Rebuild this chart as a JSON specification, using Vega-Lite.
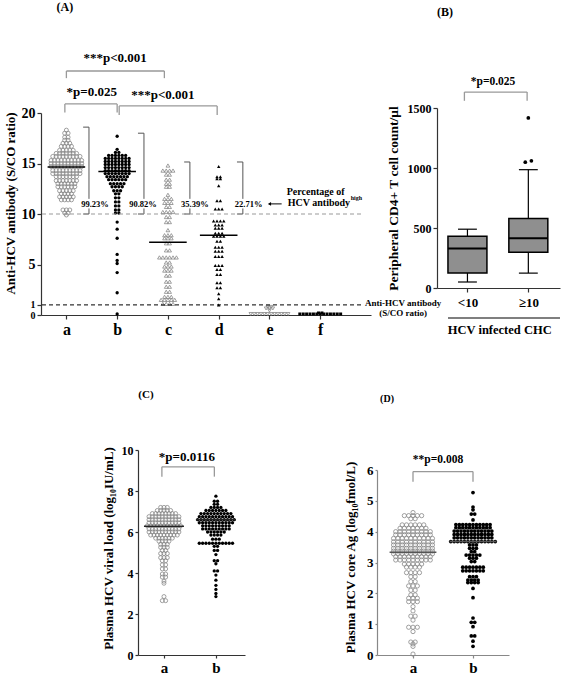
{
"$schema":"https://vega.github.io/schema/vega-lite/v6.json",
"width":563,"height":676,"autosize":"none","padding":0,"background":"white",
"config":{"view":{"stroke":null},
 "axis":{"grid":false,"labelOverlap":false,"labelFlush":false,"labelFont":"Liberation Serif","labelFontWeight":"bold","labelColor":"black","titleFont":"Liberation Serif","titleFontWeight":"bold","titleColor":"black","domainColor":"#333","tickColor":"#333","domainWidth":1.2,"tickWidth":1.2},
 "text":{"font":"Liberation Serif","fontWeight":"bold","color":"black"}},
"datasets":{
"A":[
{"g":"a","v":18.3},{"g":"a","v":18},{"g":"a","v":18},{"g":"a","v":17.6},{"g":"a","v":17.6},{"g":"a","v":17.3},{"g":"a","v":17.3},{"g":"a","v":17},{"g":"a","v":17},{"g":"a","v":17},
{"g":"a","v":16.7},{"g":"a","v":16.7},{"g":"a","v":16.7},{"g":"a","v":16.7},
{"g":"a","v":16.3},{"g":"a","v":16.3},{"g":"a","v":16.3},{"g":"a","v":16.3},{"g":"a","v":16.3},
{"g":"a","v":16},{"g":"a","v":16},{"g":"a","v":16},{"g":"a","v":16},{"g":"a","v":16},{"g":"a","v":16},{"g":"a","v":16},
{"g":"a","v":15.7},{"g":"a","v":15.7},{"g":"a","v":15.7},{"g":"a","v":15.7},{"g":"a","v":15.7},{"g":"a","v":15.7},{"g":"a","v":15.7},{"g":"a","v":15.7},{"g":"a","v":15.7},
{"g":"a","v":15.3},{"g":"a","v":15.3},{"g":"a","v":15.3},{"g":"a","v":15.3},{"g":"a","v":15.3},{"g":"a","v":15.3},{"g":"a","v":15.3},{"g":"a","v":15.3},{"g":"a","v":15.3},{"g":"a","v":15.3},
{"g":"a","v":15},{"g":"a","v":15},{"g":"a","v":15},{"g":"a","v":15},{"g":"a","v":15},{"g":"a","v":15},{"g":"a","v":15},{"g":"a","v":15},{"g":"a","v":15},{"g":"a","v":15},
{"g":"a","v":14.7},{"g":"a","v":14.7},{"g":"a","v":14.7},{"g":"a","v":14.7},{"g":"a","v":14.7},{"g":"a","v":14.7},{"g":"a","v":14.7},{"g":"a","v":14.7},{"g":"a","v":14.7},{"g":"a","v":14.7},
{"g":"a","v":14.3},{"g":"a","v":14.3},{"g":"a","v":14.3},{"g":"a","v":14.3},{"g":"a","v":14.3},{"g":"a","v":14.3},{"g":"a","v":14.3},{"g":"a","v":14.3},{"g":"a","v":14.3},
{"g":"a","v":14},{"g":"a","v":14},{"g":"a","v":14},{"g":"a","v":14},{"g":"a","v":14},{"g":"a","v":14},{"g":"a","v":14},{"g":"a","v":14},{"g":"a","v":14},
{"g":"a","v":13.7},{"g":"a","v":13.7},{"g":"a","v":13.7},{"g":"a","v":13.7},{"g":"a","v":13.7},{"g":"a","v":13.7},{"g":"a","v":13.7},
{"g":"a","v":13.3},{"g":"a","v":13.3},{"g":"a","v":13.3},{"g":"a","v":13.3},{"g":"a","v":13.3},{"g":"a","v":13.3},{"g":"a","v":13.3},
{"g":"a","v":13},{"g":"a","v":13},{"g":"a","v":13},{"g":"a","v":13},{"g":"a","v":13},{"g":"a","v":13},
{"g":"a","v":12.7},{"g":"a","v":12.7},{"g":"a","v":12.7},{"g":"a","v":12.7},{"g":"a","v":12.7},{"g":"a","v":12.7},
{"g":"a","v":12.3},{"g":"a","v":12.3},{"g":"a","v":12.3},{"g":"a","v":12.3},{"g":"a","v":12.3},
{"g":"a","v":12},{"g":"a","v":12},{"g":"a","v":12},{"g":"a","v":12},
{"g":"a","v":11.7},{"g":"a","v":11.7},{"g":"a","v":11.7},{"g":"a","v":11.7},{"g":"a","v":11.7},
{"g":"a","v":11.4},{"g":"a","v":11.4},{"g":"a","v":11.4},{"g":"a","v":11.4},
{"g":"a","v":10.4},{"g":"a","v":10.4},{"g":"a","v":10.4},{"g":"a","v":10.1},{"g":"a","v":10.1},{"g":"a","v":9.9},
{"g":"b","v":17.7},{"g":"b","v":16.4},{"g":"b","v":16.1},{"g":"b","v":16.1},
{"g":"b","v":15.8},{"g":"b","v":15.8},{"g":"b","v":15.8},{"g":"b","v":15.8},{"g":"b","v":15.8},{"g":"b","v":15.8},
{"g":"b","v":15.5},{"g":"b","v":15.5},{"g":"b","v":15.5},{"g":"b","v":15.5},{"g":"b","v":15.5},{"g":"b","v":15.5},{"g":"b","v":15.5},{"g":"b","v":15.5},
{"g":"b","v":15.2},{"g":"b","v":15.2},{"g":"b","v":15.2},{"g":"b","v":15.2},{"g":"b","v":15.2},{"g":"b","v":15.2},{"g":"b","v":15.2},{"g":"b","v":15.2},
{"g":"b","v":14.9},{"g":"b","v":14.9},{"g":"b","v":14.9},{"g":"b","v":14.9},{"g":"b","v":14.9},{"g":"b","v":14.9},{"g":"b","v":14.9},{"g":"b","v":14.9},
{"g":"b","v":14.6},{"g":"b","v":14.6},{"g":"b","v":14.6},{"g":"b","v":14.6},{"g":"b","v":14.6},{"g":"b","v":14.6},{"g":"b","v":14.6},{"g":"b","v":14.6},
{"g":"b","v":14.3},{"g":"b","v":14.3},{"g":"b","v":14.3},{"g":"b","v":14.3},{"g":"b","v":14.3},{"g":"b","v":14.3},{"g":"b","v":14.3},{"g":"b","v":14.3},
{"g":"b","v":14},{"g":"b","v":14},{"g":"b","v":14},{"g":"b","v":14},{"g":"b","v":14},{"g":"b","v":14},{"g":"b","v":14},{"g":"b","v":14},
{"g":"b","v":13.7},{"g":"b","v":13.7},{"g":"b","v":13.7},{"g":"b","v":13.7},{"g":"b","v":13.7},{"g":"b","v":13.7},{"g":"b","v":13.7},
{"g":"b","v":13.4},{"g":"b","v":13.4},{"g":"b","v":13.4},{"g":"b","v":13.4},{"g":"b","v":13.4},{"g":"b","v":13.4},
{"g":"b","v":13},{"g":"b","v":13},{"g":"b","v":13},{"g":"b","v":13},{"g":"b","v":13},
{"g":"b","v":12.7},{"g":"b","v":12.7},{"g":"b","v":12.7},{"g":"b","v":12.7},
{"g":"b","v":12.3},{"g":"b","v":12.3},{"g":"b","v":12.3},{"g":"b","v":12},{"g":"b","v":12},
{"g":"b","v":11.6},{"g":"b","v":11.6},{"g":"b","v":11.2},{"g":"b","v":11.2},{"g":"b","v":10.8},{"g":"b","v":10.8},{"g":"b","v":10.4},{"g":"b","v":10.4},{"g":"b","v":10.1},{"g":"b","v":10.1},
{"g":"b","v":9.2},{"g":"b","v":8.5},{"g":"b","v":7.6},{"g":"b","v":6},{"g":"b","v":5.4},{"g":"b","v":5.1},{"g":"b","v":4.2},{"g":"b","v":2.2},{"g":"b","v":0.1},
{"g":"c","v":14.8},{"g":"c","v":14.3},{"g":"c","v":14.3},{"g":"c","v":14.3},{"g":"c","v":14.3},{"g":"c","v":13.9},{"g":"c","v":13.9},{"g":"c","v":13.4},{"g":"c","v":13.4},{"g":"c","v":13},{"g":"c","v":13},{"g":"c","v":12.7},{"g":"c","v":12.7},{"g":"c","v":11.9},
{"g":"c","v":11.5},{"g":"c","v":11.5},{"g":"c","v":11.5},{"g":"c","v":11.1},{"g":"c","v":11.1},{"g":"c","v":11.1},{"g":"c","v":10.7},{"g":"c","v":10.7},{"g":"c","v":10.2},{"g":"c","v":10.2},{"g":"c","v":10.2},{"g":"c","v":10.2},
{"g":"c","v":9.7},{"g":"c","v":9.7},{"g":"c","v":9.2},{"g":"c","v":9.2},{"g":"c","v":8.4},{"g":"c","v":7.9},{"g":"c","v":7.9},{"g":"c","v":7.9},{"g":"c","v":7.6},{"g":"c","v":7.6},{"g":"c","v":7.6},{"g":"c","v":7.1},{"g":"c","v":7.1},{"g":"c","v":6.4},{"g":"c","v":6.4},
{"g":"c","v":5.7},{"g":"c","v":5.7},{"g":"c","v":5.7},{"g":"c","v":5.7},{"g":"c","v":5.7},{"g":"c","v":5.7},{"g":"c","v":5.2},{"g":"c","v":5.2},{"g":"c","v":4.8},{"g":"c","v":4.8},{"g":"c","v":4.8},{"g":"c","v":4.4},{"g":"c","v":4.4},{"g":"c","v":4.4},
{"g":"c","v":3.9},{"g":"c","v":3.9},{"g":"c","v":3.3},{"g":"c","v":3.3},{"g":"c","v":2.8},{"g":"c","v":2.8},{"g":"c","v":2.3},{"g":"c","v":2.3},{"g":"c","v":1.8},{"g":"c","v":1.8},{"g":"c","v":1.8},
{"g":"c","v":1.5},{"g":"c","v":1.5},{"g":"c","v":1.5},{"g":"c","v":1.5},{"g":"c","v":1.5},{"g":"c","v":1.1},{"g":"c","v":1.1},{"g":"c","v":1.1},{"g":"c","v":1.1},
{"g":"d","v":14.7},{"g":"d","v":13.7},{"g":"d","v":13.7},{"g":"d","v":13.5},{"g":"d","v":13.5},{"g":"d","v":12.8},{"g":"d","v":11.3},{"g":"d","v":11.3},{"g":"d","v":10.5},{"g":"d","v":10.5},{"g":"d","v":10.5},
{"g":"d","v":9.3},{"g":"d","v":9.3},{"g":"d","v":9.3},{"g":"d","v":9.3},{"g":"d","v":8.9},{"g":"d","v":8.9},{"g":"d","v":8.9},{"g":"d","v":8.6},{"g":"d","v":8.6},{"g":"d","v":8.6},{"g":"d","v":8.1},{"g":"d","v":8.1},{"g":"d","v":8.1},
{"g":"d","v":7.8},{"g":"d","v":7.8},{"g":"d","v":7.8},{"g":"d","v":7.8},{"g":"d","v":7.3},{"g":"d","v":7.3},{"g":"d","v":6.7},{"g":"d","v":6.7},{"g":"d","v":6.7},{"g":"d","v":6.3},{"g":"d","v":6.3},{"g":"d","v":6.3},
{"g":"d","v":5.8},{"g":"d","v":5.8},{"g":"d","v":5.8},{"g":"d","v":4.9},{"g":"d","v":4.9},{"g":"d","v":4.9},{"g":"d","v":4.5},{"g":"d","v":4.5},{"g":"d","v":4},{"g":"d","v":4},{"g":"d","v":3.2},{"g":"d","v":3.2},{"g":"d","v":2.7},{"g":"d","v":2.7},{"g":"d","v":2.1},{"g":"d","v":1.6},{"g":"d","v":1},
{"g":"e","v":0.8},{"g":"e","v":0.8},{"g":"e","v":0.65},{"g":"e","v":0.65},{"g":"e","v":0.65},{"g":"e","v":0.45},
{"g":"e","v":0.1},{"g":"e","v":0.1},{"g":"e","v":0.1},{"g":"e","v":0.1},{"g":"e","v":0.1},{"g":"e","v":0.1},{"g":"e","v":0.1},{"g":"e","v":0.1},{"g":"e","v":0.1},{"g":"e","v":0.1},{"g":"e","v":0.1},{"g":"e","v":0.1},
{"g":"f","v":0.2},{"g":"f","v":0.2},
{"g":"f","v":0.1},{"g":"f","v":0.1},{"g":"f","v":0.1},{"g":"f","v":0.1},{"g":"f","v":0.1},{"g":"f","v":0.1},{"g":"f","v":0.1},{"g":"f","v":0.1},{"g":"f","v":0.1},{"g":"f","v":0.1},{"g":"f","v":0.1},{"g":"f","v":0.1},{"g":"f","v":0.1}
],
"Am":[{"g":"a","m":14.65},{"g":"b","m":14.2},{"g":"c","m":7.2},{"g":"d","m":7.9}],
"As":[
{"k":"br","x":1,"x2":2.93,"y":24.16,"y2":24.16},{"k":"br","x":1,"x2":1,"y":24.16,"y2":23.45},{"k":"br","x":2.93,"x2":2.93,"y":24.16,"y2":23.45},
{"k":"br","x":0.97,"x2":2.0,"y":20.9,"y2":20.9},{"k":"br","x":0.97,"x2":0.97,"y":20.9,"y2":20.05},{"k":"br","x":2.0,"x2":2.0,"y":20.9,"y2":20.05},
{"k":"br","x":2.04,"x2":3.97,"y":20.7,"y2":20.7},{"k":"br","x":2.04,"x2":2.04,"y":20.7,"y2":19.8},{"k":"br","x":3.97,"x2":3.97,"y":20.7,"y2":19.8},
{"k":"pct","x":1.445,"x2":1.445,"y":18.6,"y2":11.5},{"k":"pct","x":1.445,"x2":1.445,"y":10.55,"y2":10},{"k":"pct","x":1.33,"x2":1.445,"y":18.6,"y2":18.6},{"k":"pct","x":1.33,"x2":1.445,"y":10,"y2":10},
{"k":"pct","x":2.528,"x2":2.528,"y":18.0,"y2":11.5},{"k":"pct","x":2.528,"x2":2.528,"y":10.55,"y2":10},{"k":"pct","x":2.41,"x2":2.528,"y":18.0,"y2":18.0},{"k":"pct","x":2.41,"x2":2.528,"y":10,"y2":10},
{"k":"pct","x":3.433,"x2":3.433,"y":15.15,"y2":11.5},{"k":"pct","x":3.433,"x2":3.433,"y":10.55,"y2":10},{"k":"pct","x":3.32,"x2":3.433,"y":15.15,"y2":15.15},{"k":"pct","x":3.32,"x2":3.433,"y":10,"y2":10},
{"k":"pct","x":4.476,"x2":4.476,"y":15.15,"y2":11.5},{"k":"pct","x":4.476,"x2":4.476,"y":10.55,"y2":10},{"k":"pct","x":4.36,"x2":4.476,"y":15.15,"y2":15.15},{"k":"pct","x":4.36,"x2":4.476,"y":10,"y2":10},
{"k":"c10","x":0.52,"x2":6.82,"y":10,"y2":10},
{"k":"c1","x":0.52,"x2":6.82,"y":1,"y2":1},
{"k":"ar","x":5.0,"x2":5.24,"y":11.0,"y2":11.0}
],
"At":[
{"k":"p","t":"***p<0.001","x":1.96,"y":25.45},
{"k":"p","t":"*p=0.025","x":1.5,"y":22.1},
{"k":"p","t":"***p<0.001","x":2.9,"y":21.8},
{"k":"pc","t":"99.23%","x":1.563,"y":11.0},
{"k":"pc","t":"90.82%","x":2.508,"y":11.0},
{"k":"pc","t":"35.39%","x":3.53,"y":11.0},
{"k":"pc","t":"22.71%","x":4.59,"y":11.0},
{"k":"n","t":"Percentage of","x":5.34,"y":12.2},
{"k":"n","t":"HCV antibody","x":5.36,"y":11.05},
{"k":"sup","t":"high","x":6.6,"y":11.55},
{"k":"lab","t":"(A)","x":0.97,"y":30.5}
],
"B":[{"grp":"<10","lo":50,"q1":124,"med":330,"q3":431,"hi":490},{"grp":"≥10","lo":124,"q1":298,"med":414,"q3":580,"hi":986}],
"Bo":[{"grp":"≥10","v":1417},{"grp":"≥10","v":1048},{"grp":"≥10","v":1060}],
"Bs":[
{"k":"br","x":0.95,"x2":1.98,"y":1633,"y2":1633},{"k":"br","x":0.95,"x2":0.95,"y":1633,"y2":1560},{"k":"br","x":1.98,"x2":1.98,"y":1633,"y2":1560},
{"k":"ln","x":0.68,"x2":2.52,"y":-250,"y2":-250}
],
"Bt":[
{"k":"p","t":"*p=0.025","x":1.42,"y":1717},
{"k":"s","t":"Anti-HCV antibody","x":-0.057,"y":-125},
{"k":"s","t":"(S/CO ratio)","x":-0.057,"y":-208},
{"k":"h","t":"HCV infected CHC","x":1.53,"y":-350},
{"k":"lab","t":"(B)","x":0.63,"y":2300}
],
"C":[
{"g":"a","v":7.2},{"g":"a","v":7.2},{"g":"a","v":7.2},
{"g":"a","v":7.05},{"g":"a","v":7.05},{"g":"a","v":7.05},{"g":"a","v":7.05},{"g":"a","v":7.05},
{"g":"a","v":6.9},{"g":"a","v":6.9},{"g":"a","v":6.9},{"g":"a","v":6.9},{"g":"a","v":6.9},{"g":"a","v":6.9},{"g":"a","v":6.9},{"g":"a","v":6.9},
{"g":"a","v":6.75},{"g":"a","v":6.75},{"g":"a","v":6.75},{"g":"a","v":6.75},{"g":"a","v":6.75},{"g":"a","v":6.75},{"g":"a","v":6.75},{"g":"a","v":6.75},{"g":"a","v":6.75},{"g":"a","v":6.75},
{"g":"a","v":6.6},{"g":"a","v":6.6},{"g":"a","v":6.6},{"g":"a","v":6.6},{"g":"a","v":6.6},{"g":"a","v":6.6},{"g":"a","v":6.6},{"g":"a","v":6.6},{"g":"a","v":6.6},{"g":"a","v":6.6},
{"g":"a","v":6.45},{"g":"a","v":6.45},{"g":"a","v":6.45},{"g":"a","v":6.45},{"g":"a","v":6.45},{"g":"a","v":6.45},{"g":"a","v":6.45},{"g":"a","v":6.45},{"g":"a","v":6.45},{"g":"a","v":6.45},
{"g":"a","v":6.3},{"g":"a","v":6.3},{"g":"a","v":6.3},{"g":"a","v":6.3},{"g":"a","v":6.3},{"g":"a","v":6.3},{"g":"a","v":6.3},{"g":"a","v":6.3},{"g":"a","v":6.3},{"g":"a","v":6.3},{"g":"a","v":6.3},
{"g":"a","v":6.15},{"g":"a","v":6.15},{"g":"a","v":6.15},{"g":"a","v":6.15},{"g":"a","v":6.15},{"g":"a","v":6.15},{"g":"a","v":6.15},{"g":"a","v":6.15},{"g":"a","v":6.15},{"g":"a","v":6.15},
{"g":"a","v":6},{"g":"a","v":6},{"g":"a","v":6},{"g":"a","v":6},{"g":"a","v":6},{"g":"a","v":6},{"g":"a","v":6},{"g":"a","v":6},{"g":"a","v":6},{"g":"a","v":6},
{"g":"a","v":5.85},{"g":"a","v":5.85},{"g":"a","v":5.85},{"g":"a","v":5.85},{"g":"a","v":5.85},{"g":"a","v":5.85},{"g":"a","v":5.85},{"g":"a","v":5.85},{"g":"a","v":5.85},
{"g":"a","v":5.7},{"g":"a","v":5.7},{"g":"a","v":5.7},{"g":"a","v":5.7},{"g":"a","v":5.7},{"g":"a","v":5.7},
{"g":"a","v":5.55},{"g":"a","v":5.55},{"g":"a","v":5.55},{"g":"a","v":5.55},
{"g":"a","v":5.4},{"g":"a","v":5.4},{"g":"a","v":5.4},{"g":"a","v":5.25},{"g":"a","v":5.25},{"g":"a","v":5.25},{"g":"a","v":5.1},{"g":"a","v":5.1},
{"g":"a","v":4.95},{"g":"a","v":4.95},{"g":"a","v":4.95},{"g":"a","v":4.75},{"g":"a","v":4.75},{"g":"a","v":4.75},{"g":"a","v":4.6},{"g":"a","v":4.6},{"g":"a","v":4.4},{"g":"a","v":4.4},{"g":"a","v":4.2},{"g":"a","v":4.2},
{"g":"a","v":3.95},{"g":"a","v":3.95},{"g":"a","v":3.8},{"g":"a","v":3.8},{"g":"a","v":3.6},{"g":"a","v":3.5},{"g":"a","v":2.85},{"g":"a","v":2.65},{"g":"a","v":2.65},
{"g":"b","v":7.75},{"g":"b","v":7.5},{"g":"b","v":7.5},{"g":"b","v":7.35},{"g":"b","v":7.35},
{"g":"b","v":7.2},{"g":"b","v":7.2},{"g":"b","v":7.2},{"g":"b","v":7.2},
{"g":"b","v":7.05},{"g":"b","v":7.05},{"g":"b","v":7.05},{"g":"b","v":7.05},{"g":"b","v":7.05},{"g":"b","v":7.05},{"g":"b","v":7.05},
{"g":"b","v":6.9},{"g":"b","v":6.9},{"g":"b","v":6.9},{"g":"b","v":6.9},{"g":"b","v":6.9},{"g":"b","v":6.9},{"g":"b","v":6.9},{"g":"b","v":6.9},{"g":"b","v":6.9},{"g":"b","v":6.9},
{"g":"b","v":6.75},{"g":"b","v":6.75},{"g":"b","v":6.75},{"g":"b","v":6.75},{"g":"b","v":6.75},{"g":"b","v":6.75},{"g":"b","v":6.75},{"g":"b","v":6.75},{"g":"b","v":6.75},{"g":"b","v":6.75},{"g":"b","v":6.75},
{"g":"b","v":6.6},{"g":"b","v":6.6},{"g":"b","v":6.6},{"g":"b","v":6.6},{"g":"b","v":6.6},{"g":"b","v":6.6},{"g":"b","v":6.6},{"g":"b","v":6.6},{"g":"b","v":6.6},{"g":"b","v":6.6},{"g":"b","v":6.6},{"g":"b","v":6.6},
{"g":"b","v":6.45},{"g":"b","v":6.45},{"g":"b","v":6.45},{"g":"b","v":6.45},{"g":"b","v":6.45},{"g":"b","v":6.45},{"g":"b","v":6.45},{"g":"b","v":6.45},{"g":"b","v":6.45},{"g":"b","v":6.45},{"g":"b","v":6.45},
{"g":"b","v":6.3},{"g":"b","v":6.3},{"g":"b","v":6.3},{"g":"b","v":6.3},{"g":"b","v":6.3},{"g":"b","v":6.3},{"g":"b","v":6.3},{"g":"b","v":6.3},{"g":"b","v":6.3},
{"g":"b","v":6.15},{"g":"b","v":6.15},{"g":"b","v":6.15},{"g":"b","v":6.15},{"g":"b","v":6.15},{"g":"b","v":6.15},{"g":"b","v":6.15},{"g":"b","v":6.15},{"g":"b","v":6.15},
{"g":"b","v":6},{"g":"b","v":6},{"g":"b","v":6},{"g":"b","v":6},{"g":"b","v":6},{"g":"b","v":6},
{"g":"b","v":5.85},{"g":"b","v":5.85},{"g":"b","v":5.85},{"g":"b","v":5.85},{"g":"b","v":5.65},{"g":"b","v":5.65},{"g":"b","v":5.65},
{"g":"b","v":5.45},{"g":"b","v":5.45},{"g":"b","v":5.45},{"g":"b","v":5.45},{"g":"b","v":5.45},{"g":"b","v":5.45},{"g":"b","v":5.45},{"g":"b","v":5.45},{"g":"b","v":5.45},{"g":"b","v":5.45},{"g":"b","v":5.45},
{"g":"b","v":5.3},{"g":"b","v":5.3},{"g":"b","v":5.1},{"g":"b","v":5.1},{"g":"b","v":4.9},{"g":"b","v":4.6},{"g":"b","v":4.6},{"g":"b","v":4.45},{"g":"b","v":4.1},{"g":"b","v":4.1},{"g":"b","v":3.9},{"g":"b","v":3.65},{"g":"b","v":3.4},{"g":"b","v":3.2},{"g":"b","v":3},{"g":"b","v":2.85}
],
"Cm":[{"g":"a","m":6.28},{"g":"b","m":6.6}],
"Cs":[{"x":0.96,"x2":1.97,"y":9.18,"y2":9.18},{"x":0.96,"x2":0.96,"y":9.18,"y2":8.7},{"x":1.97,"x2":1.97,"y":9.18,"y2":8.7}],
"Ct":[{"k":"p","t":"*p=0.0116","x":1.44,"y":9.67},{"k":"lab","t":"(C)","x":0.654,"y":12.68}],
"D":[
{"g":"a","v":4.62},{"g":"a","v":4.52},{"g":"a","v":4.52},{"g":"a","v":4.52},{"g":"a","v":4.52},{"g":"a","v":4.52},{"g":"a","v":4.42},{"g":"a","v":4.42},
{"g":"a","v":4.22},{"g":"a","v":4.22},{"g":"a","v":4.22},{"g":"a","v":4.22},{"g":"a","v":4.22},{"g":"a","v":4.22},
{"g":"a","v":4.11},{"g":"a","v":4.11},{"g":"a","v":4.11},{"g":"a","v":4.11},{"g":"a","v":4.11},{"g":"a","v":4.11},{"g":"a","v":4.11},
{"g":"a","v":4},{"g":"a","v":4},{"g":"a","v":4},{"g":"a","v":4},{"g":"a","v":4},{"g":"a","v":4},{"g":"a","v":4},{"g":"a","v":4},{"g":"a","v":4},
{"g":"a","v":3.9},{"g":"a","v":3.9},{"g":"a","v":3.9},{"g":"a","v":3.9},{"g":"a","v":3.9},{"g":"a","v":3.9},{"g":"a","v":3.9},{"g":"a","v":3.9},{"g":"a","v":3.9},
{"g":"a","v":3.78},{"g":"a","v":3.78},{"g":"a","v":3.78},{"g":"a","v":3.78},{"g":"a","v":3.78},{"g":"a","v":3.78},{"g":"a","v":3.78},{"g":"a","v":3.78},{"g":"a","v":3.78},{"g":"a","v":3.78},
{"g":"a","v":3.67},{"g":"a","v":3.67},{"g":"a","v":3.67},{"g":"a","v":3.67},{"g":"a","v":3.67},{"g":"a","v":3.67},{"g":"a","v":3.67},{"g":"a","v":3.67},{"g":"a","v":3.67},{"g":"a","v":3.67},
{"g":"a","v":3.57},{"g":"a","v":3.57},{"g":"a","v":3.57},{"g":"a","v":3.57},{"g":"a","v":3.57},{"g":"a","v":3.57},{"g":"a","v":3.57},{"g":"a","v":3.57},{"g":"a","v":3.57},{"g":"a","v":3.57},
{"g":"a","v":3.46},{"g":"a","v":3.46},{"g":"a","v":3.46},{"g":"a","v":3.46},{"g":"a","v":3.46},{"g":"a","v":3.46},{"g":"a","v":3.46},{"g":"a","v":3.46},{"g":"a","v":3.46},{"g":"a","v":3.46},
{"g":"a","v":3.37},{"g":"a","v":3.37},{"g":"a","v":3.37},{"g":"a","v":3.37},{"g":"a","v":3.37},{"g":"a","v":3.37},{"g":"a","v":3.37},{"g":"a","v":3.37},{"g":"a","v":3.37},{"g":"a","v":3.37},
{"g":"a","v":3.28},{"g":"a","v":3.28},{"g":"a","v":3.28},{"g":"a","v":3.28},{"g":"a","v":3.28},{"g":"a","v":3.28},{"g":"a","v":3.28},{"g":"a","v":3.28},{"g":"a","v":3.28},{"g":"a","v":3.28},
{"g":"a","v":3.19},{"g":"a","v":3.19},{"g":"a","v":3.19},{"g":"a","v":3.19},{"g":"a","v":3.19},{"g":"a","v":3.19},{"g":"a","v":3.19},{"g":"a","v":3.19},{"g":"a","v":3.19},
{"g":"a","v":3.08},{"g":"a","v":3.08},{"g":"a","v":3.08},{"g":"a","v":3.08},{"g":"a","v":3.08},{"g":"a","v":3.08},{"g":"a","v":3.08},{"g":"a","v":3.08},{"g":"a","v":3.08},
{"g":"a","v":2.95},{"g":"a","v":2.95},{"g":"a","v":2.95},{"g":"a","v":2.95},{"g":"a","v":2.95},{"g":"a","v":2.85},{"g":"a","v":2.85},{"g":"a","v":2.85},{"g":"a","v":2.85},
{"g":"a","v":2.67},{"g":"a","v":2.67},{"g":"a","v":2.67},{"g":"a","v":2.67},{"g":"a","v":2.54},{"g":"a","v":2.54},{"g":"a","v":2.38},{"g":"a","v":2.38},{"g":"a","v":2.24},{"g":"a","v":2.24},{"g":"a","v":2.24},
{"g":"a","v":2.1},{"g":"a","v":2.1},{"g":"a","v":1.95},{"g":"a","v":1.95},{"g":"a","v":1.84},{"g":"a","v":1.84},{"g":"a","v":1.84},{"g":"a","v":1.73},{"g":"a","v":1.73},{"g":"a","v":1.73},
{"g":"a","v":1.57},{"g":"a","v":1.43},{"g":"a","v":1.26},{"g":"a","v":1.26},{"g":"a","v":1.13},{"g":"a","v":0.9},{"g":"a","v":0.9},{"g":"a","v":0.9},{"g":"a","v":0.76},{"g":"a","v":0.42},{"g":"a","v":0.42},{"g":"a","v":0.36},{"g":"a","v":0.28},{"g":"a","v":0.03},
{"g":"b","v":5.27},{"g":"b","v":4.8},{"g":"b","v":4.71},{"g":"b","v":4.57},{"g":"b","v":4.57},{"g":"b","v":4.38},
{"g":"b","v":4.23},{"g":"b","v":4.23},{"g":"b","v":4.23},{"g":"b","v":4.23},{"g":"b","v":4.23},{"g":"b","v":4.23},{"g":"b","v":4.23},{"g":"b","v":4.23},{"g":"b","v":4.23},{"g":"b","v":4.23},{"g":"b","v":4.23},
{"g":"b","v":4.13},{"g":"b","v":4.13},{"g":"b","v":4.13},{"g":"b","v":4.13},{"g":"b","v":4.13},{"g":"b","v":4.13},{"g":"b","v":4.13},{"g":"b","v":4.13},{"g":"b","v":4.13},{"g":"b","v":4.13},{"g":"b","v":4.13},
{"g":"b","v":4.02},{"g":"b","v":4.02},{"g":"b","v":4.02},{"g":"b","v":4.02},{"g":"b","v":4.02},{"g":"b","v":4.02},{"g":"b","v":4.02},{"g":"b","v":4.02},{"g":"b","v":4.02},{"g":"b","v":4.02},{"g":"b","v":4.02},{"g":"b","v":4.02},
{"g":"b","v":3.91},{"g":"b","v":3.91},{"g":"b","v":3.91},{"g":"b","v":3.91},{"g":"b","v":3.91},{"g":"b","v":3.91},{"g":"b","v":3.91},{"g":"b","v":3.91},{"g":"b","v":3.91},{"g":"b","v":3.91},{"g":"b","v":3.91},{"g":"b","v":3.91},
{"g":"b","v":3.8},{"g":"b","v":3.8},{"g":"b","v":3.8},{"g":"b","v":3.8},{"g":"b","v":3.8},{"g":"b","v":3.8},{"g":"b","v":3.8},{"g":"b","v":3.8},{"g":"b","v":3.8},{"g":"b","v":3.8},{"g":"b","v":3.8},{"g":"b","v":3.8},
{"g":"b","v":3.68},{"g":"b","v":3.68},{"g":"b","v":3.68},{"g":"b","v":3.68},{"g":"b","v":3.68},{"g":"b","v":3.68},{"g":"b","v":3.68},{"g":"b","v":3.68},{"g":"b","v":3.68},{"g":"b","v":3.68},{"g":"b","v":3.68},{"g":"b","v":3.68},{"g":"b","v":3.68},{"g":"b","v":3.68},
{"g":"b","v":3.57},{"g":"b","v":3.57},{"g":"b","v":3.57},{"g":"b","v":3.46},{"g":"b","v":3.46},{"g":"b","v":3.46},{"g":"b","v":3.35},{"g":"b","v":3.35},
{"g":"b","v":3.24},{"g":"b","v":3.24},{"g":"b","v":3.24},{"g":"b","v":3.24},{"g":"b","v":3.24},{"g":"b","v":3.14},{"g":"b","v":3.14},{"g":"b","v":3.14},{"g":"b","v":3.03},{"g":"b","v":3.03},
{"g":"b","v":2.85},{"g":"b","v":2.85},{"g":"b","v":2.85},{"g":"b","v":2.85},{"g":"b","v":2.85},{"g":"b","v":2.85},{"g":"b","v":2.85},
{"g":"b","v":2.73},{"g":"b","v":2.73},{"g":"b","v":2.73},{"g":"b","v":2.73},{"g":"b","v":2.73},{"g":"b","v":2.73},{"g":"b","v":2.73},
{"g":"b","v":2.54},{"g":"b","v":2.54},{"g":"b","v":2.54},{"g":"b","v":2.43},{"g":"b","v":2.43},{"g":"b","v":2.43},{"g":"b","v":2.43},{"g":"b","v":2.35},{"g":"b","v":2.35},{"g":"b","v":2.35},{"g":"b","v":2.35},
{"g":"b","v":2.16},{"g":"b","v":1.86},{"g":"b","v":1.2},{"g":"b","v":1.06},{"g":"b","v":1.06},{"g":"b","v":0.92},{"g":"b","v":0.62},{"g":"b","v":0.62},{"g":"b","v":0.45},{"g":"b","v":0.28}
],
"Dm":[{"g":"a","m":3.33},{"g":"b","m":3.68}],
"Ds":[{"x":1,"x2":2,"y":5.95,"y2":5.95},{"x":1,"x2":1,"y":5.95,"y2":5.62},{"x":2,"x2":2,"y":5.95,"y2":5.62}],
"Dt":[{"k":"p","t":"**p=0.008","x":1.417,"y":6.33},{"k":"lab","t":"(D)","x":0.567,"y":8.3}]
},
"layer":[
{"data":{"name":"A"},"transform":[{"filter":"datum.g=='a'"},{"window":[{"op":"row_number","as":"k"}],"groupby":["v"]},{"joinaggregate":[{"op":"count","as":"n"}],"groupby":["v"]},{"calculate":"1+(datum.k-(datum.n+1)/2)*0.067","as":"xp"}],
 "mark":{"type":"point","shape":"circle","filled":false,"color":"#888","strokeWidth":0.8,"size":16,"opacity":1},
 "encoding":{
  "x":{"field":"xp","type":"quantitative","scale":{"domain":[0.5,7],"range":[41,371],"nice":false,"zero":false},
       "axis":{"orient":"bottom","offset":-361,"values":[1,2,3,4,5,6],"labelExpr":"['','a','b','c','d','e','f'][datum.value]","labelFontSize":16,"tickSize":4,"labelPadding":2,"title":null}},
  "y":{"field":"v","type":"quantitative","scale":{"domain":[0,20],"range":[315,113],"nice":false,"zero":false},
       "axis":{"orient":"left","offset":-41,"values":[0,1,5,10,15,20],"format":"d","labelFontSize":{"condition":{"test":"datum.value <= 1","value":10},"value":14},"tickSize":4,"labelPadding":2,"title":"Anti-HCV antibody (S/CO ratio)","titleFontSize":13,"titleAngle":-90,"titleX":-31,"titleY":203,"titleAlign":"center","titleBaseline":"middle"}}}},
{"data":{"name":"A"},"transform":[{"filter":"datum.g=='b'"},{"window":[{"op":"row_number","as":"k"}],"groupby":["v"]},{"joinaggregate":[{"op":"count","as":"n"}],"groupby":["v"]},{"calculate":"2+(datum.k-(datum.n+1)/2)*0.067","as":"xp"}],
 "mark":{"type":"point","shape":"circle","filled":true,"color":"black","size":11,"opacity":1},
 "encoding":{"x":{"field":"xp","type":"quantitative","scale":{"domain":[0.5,7],"range":[41,371],"nice":false,"zero":false},"axis":null},"y":{"field":"v","type":"quantitative","scale":{"domain":[0,20],"range":[315,113],"nice":false,"zero":false},"axis":null}}},
{"data":{"name":"A"},"transform":[{"filter":"datum.g=='c'"},{"window":[{"op":"row_number","as":"k"}],"groupby":["v"]},{"joinaggregate":[{"op":"count","as":"n"}],"groupby":["v"]},{"calculate":"3+(datum.k-(datum.n+1)/2)*0.067","as":"xp"}],
 "mark":{"type":"point","shape":"triangle-up","filled":false,"color":"#888","strokeWidth":0.8,"size":14,"opacity":1},
 "encoding":{"x":{"field":"xp","type":"quantitative","scale":{"domain":[0.5,7],"range":[41,371],"nice":false,"zero":false},"axis":null},"y":{"field":"v","type":"quantitative","scale":{"domain":[0,20],"range":[315,113],"nice":false,"zero":false},"axis":null}}},
{"data":{"name":"A"},"transform":[{"filter":"datum.g=='d'"},{"window":[{"op":"row_number","as":"k"}],"groupby":["v"]},{"joinaggregate":[{"op":"count","as":"n"}],"groupby":["v"]},{"calculate":"4+(datum.k-(datum.n+1)/2)*0.067","as":"xp"}],
 "mark":{"type":"point","shape":"triangle-up","filled":true,"color":"black","size":12,"opacity":1},
 "encoding":{"x":{"field":"xp","type":"quantitative","scale":{"domain":[0.5,7],"range":[41,371],"nice":false,"zero":false},"axis":null},"y":{"field":"v","type":"quantitative","scale":{"domain":[0,20],"range":[315,113],"nice":false,"zero":false},"axis":null}}},
{"data":{"name":"A"},"transform":[{"filter":"datum.g=='e'"},{"window":[{"op":"row_number","as":"k"}],"groupby":["v"]},{"joinaggregate":[{"op":"count","as":"n"}],"groupby":["v"]},{"calculate":"5+(datum.k-(datum.n+1)/2)*0.067","as":"xp"}],
 "mark":{"type":"point","shape":"triangle-down","filled":false,"color":"#888","strokeWidth":0.8,"size":12,"opacity":1},
 "encoding":{"x":{"field":"xp","type":"quantitative","scale":{"domain":[0.5,7],"range":[41,371],"nice":false,"zero":false},"axis":null},"y":{"field":"v","type":"quantitative","scale":{"domain":[0,20],"range":[315,113],"nice":false,"zero":false},"axis":null}}},
{"data":{"name":"A"},"transform":[{"filter":"datum.g=='f'"},{"window":[{"op":"row_number","as":"k"}],"groupby":["v"]},{"joinaggregate":[{"op":"count","as":"n"}],"groupby":["v"]},{"calculate":"6+(datum.k-(datum.n+1)/2)*0.067","as":"xp"}],
 "mark":{"type":"point","shape":"square","filled":true,"color":"black","size":9,"opacity":1},
 "encoding":{"x":{"field":"xp","type":"quantitative","scale":{"domain":[0.5,7],"range":[41,371],"nice":false,"zero":false},"axis":null},"y":{"field":"v","type":"quantitative","scale":{"domain":[0,20],"range":[315,113],"nice":false,"zero":false},"axis":null}}},
{"data":{"name":"Am"},"transform":[{"calculate":"indexof(['a','b','c','d','e','f'],datum.g)+0.63","as":"x1"},{"calculate":"indexof(['a','b','c','d','e','f'],datum.g)+1.37","as":"x2"}],
 "mark":{"type":"rule","color":"black","strokeWidth":1.5},
 "encoding":{"x":{"field":"x1","type":"quantitative","scale":{"domain":[0.5,7],"range":[41,371],"nice":false,"zero":false},"axis":null},"x2":{"field":"x2"},"y":{"field":"m","type":"quantitative","scale":{"domain":[0,20],"range":[315,113],"nice":false,"zero":false},"axis":null}}},
{"data":{"name":"As"},"transform":[{"filter":"datum.k=='br'"}],"mark":{"type":"rule","color":"#999","strokeWidth":1.3},
 "encoding":{"x":{"field":"x","type":"quantitative","scale":{"domain":[0.5,7],"range":[41,371],"nice":false,"zero":false},"axis":null},"x2":{"field":"x2"},"y":{"field":"y","type":"quantitative","scale":{"domain":[0,20],"range":[315,113],"nice":false,"zero":false},"axis":null},"y2":{"field":"y2"}}},
{"data":{"name":"As"},"transform":[{"filter":"datum.k=='pct'"}],"mark":{"type":"rule","color":"#555","strokeWidth":1},
 "encoding":{"x":{"field":"x","type":"quantitative","scale":{"domain":[0.5,7],"range":[41,371],"nice":false,"zero":false},"axis":null},"x2":{"field":"x2"},"y":{"field":"y","type":"quantitative","scale":{"domain":[0,20],"range":[315,113],"nice":false,"zero":false},"axis":null},"y2":{"field":"y2"}}},
{"data":{"name":"As"},"transform":[{"filter":"datum.k=='c10'"}],"mark":{"type":"rule","color":"#999","strokeWidth":1,"strokeDash":[4,3]},
 "encoding":{"x":{"field":"x","type":"quantitative","scale":{"domain":[0.5,7],"range":[41,371],"nice":false,"zero":false},"axis":null},"x2":{"field":"x2"},"y":{"field":"y","type":"quantitative","scale":{"domain":[0,20],"range":[315,113],"nice":false,"zero":false},"axis":null},"y2":{"field":"y2"}}},
{"data":{"name":"As"},"transform":[{"filter":"datum.k=='c1'"}],"mark":{"type":"rule","color":"black","strokeWidth":1,"strokeDash":[4,3]},
 "encoding":{"x":{"field":"x","type":"quantitative","scale":{"domain":[0.5,7],"range":[41,371],"nice":false,"zero":false},"axis":null},"x2":{"field":"x2"},"y":{"field":"y","type":"quantitative","scale":{"domain":[0,20],"range":[315,113],"nice":false,"zero":false},"axis":null},"y2":{"field":"y2"}}},
{"data":{"name":"As"},"transform":[{"filter":"datum.k=='ar'"}],"mark":{"type":"rule","color":"black","strokeWidth":1},
 "encoding":{"x":{"field":"x","type":"quantitative","scale":{"domain":[0.5,7],"range":[41,371],"nice":false,"zero":false},"axis":null},"x2":{"field":"x2"},"y":{"field":"y","type":"quantitative","scale":{"domain":[0,20],"range":[315,113],"nice":false,"zero":false},"axis":null},"y2":{"field":"y2"}}},
{"data":{"name":"As"},"transform":[{"filter":"datum.k=='ar'"}],"mark":{"type":"point","shape":"triangle-left","filled":true,"color":"black","size":14,"opacity":1},
 "encoding":{"x":{"field":"x","type":"quantitative","scale":{"domain":[0.5,7],"range":[41,371],"nice":false,"zero":false},"axis":null},"y":{"field":"y","type":"quantitative","scale":{"domain":[0,20],"range":[315,113],"nice":false,"zero":false},"axis":null}}},
{"data":{"name":"At"},"transform":[{"filter":"datum.k=='p'"}],"mark":{"type":"text","fontSize":13,"color":"black"},
 "encoding":{"x":{"field":"x","type":"quantitative","scale":{"domain":[0.5,7],"range":[41,371],"nice":false,"zero":false},"axis":null},"y":{"field":"y","type":"quantitative","scale":{"domain":[0,20],"range":[315,113],"nice":false,"zero":false},"axis":null},"text":{"field":"t","type":"nominal"}}},
{"data":{"name":"At"},"transform":[{"filter":"datum.k=='pc'"}],"mark":{"type":"text","fontSize":8.5,"color":"black"},
 "encoding":{"x":{"field":"x","type":"quantitative","scale":{"domain":[0.5,7],"range":[41,371],"nice":false,"zero":false},"axis":null},"y":{"field":"y","type":"quantitative","scale":{"domain":[0,20],"range":[315,113],"nice":false,"zero":false},"axis":null},"text":{"field":"t","type":"nominal"}}},
{"data":{"name":"At"},"transform":[{"filter":"datum.k=='n'"}],"mark":{"type":"text","fontSize":10,"align":"left","color":"black"},
 "encoding":{"x":{"field":"x","type":"quantitative","scale":{"domain":[0.5,7],"range":[41,371],"nice":false,"zero":false},"axis":null},"y":{"field":"y","type":"quantitative","scale":{"domain":[0,20],"range":[315,113],"nice":false,"zero":false},"axis":null},"text":{"field":"t","type":"nominal"}}},
{"data":{"name":"At"},"transform":[{"filter":"datum.k=='sup'"}],"mark":{"type":"text","fontSize":6,"align":"left","color":"black"},
 "encoding":{"x":{"field":"x","type":"quantitative","scale":{"domain":[0.5,7],"range":[41,371],"nice":false,"zero":false},"axis":null},"y":{"field":"y","type":"quantitative","scale":{"domain":[0,20],"range":[315,113],"nice":false,"zero":false},"axis":null},"text":{"field":"t","type":"nominal"}}},
{"data":{"name":"At"},"transform":[{"filter":"datum.k=='lab'"}],"mark":{"type":"text","fontSize":12,"color":"black"},
 "encoding":{"x":{"field":"x","type":"quantitative","scale":{"domain":[0.5,7],"range":[41,371],"nice":false,"zero":false},"axis":null},"y":{"field":"y","type":"quantitative","scale":{"domain":[0,20],"range":[315,113],"nice":false,"zero":false},"axis":null},"text":{"field":"t","type":"nominal"}}},

{"data":{"name":"B"},"transform":[{"calculate":"datum.grp=='<10'?1:2","as":"xb"}],
 "mark":{"type":"rule","color":"black","strokeWidth":1.2},
 "encoding":{
  "x":{"field":"xb","type":"quantitative","scale":{"domain":[0.5,2.52],"range":[437,560],"nice":false,"zero":false},
       "axis":{"orient":"bottom","offset":-388,"values":[1,2],"labelExpr":"datum.value==1?'<10':'≥10'","labelFontSize":13,"tickSize":4,"labelPadding":4,"title":null}},
  "y":{"field":"lo","type":"quantitative","scale":{"domain":[0,1500],"range":[288,108],"nice":false,"zero":false},
       "axis":{"orient":"left","offset":-437,"values":[0,500,1000,1500],"format":"d","labelFontSize":12,"tickSize":4,"labelPadding":2,"title":"Peripheral CD4+ T cell count/μl","titleFontSize":13.5,"titleAngle":-90,"titleX":-44,"titleY":198,"titleAlign":"center","titleBaseline":"middle"}},
  "y2":{"field":"hi"}}},
{"data":{"name":"B"},"transform":[{"calculate":"(datum.grp=='<10'?1:2)-0.32","as":"xl"},{"calculate":"(datum.grp=='<10'?1:2)+0.32","as":"xr"}],
 "mark":{"type":"rect","fill":"#8f8f8f","stroke":"black","strokeWidth":1.5},
 "encoding":{"x":{"field":"xl","type":"quantitative","scale":{"domain":[0.5,2.52],"range":[437,560],"nice":false,"zero":false},"axis":null},"x2":{"field":"xr"},"y":{"field":"q1","type":"quantitative","scale":{"domain":[0,1500],"range":[288,108],"nice":false,"zero":false},"axis":null},"y2":{"field":"q3"}}},
{"data":{"name":"B"},"transform":[{"calculate":"(datum.grp=='<10'?1:2)-0.32","as":"xl"},{"calculate":"(datum.grp=='<10'?1:2)+0.32","as":"xr"}],
 "mark":{"type":"rule","color":"black","strokeWidth":2},
 "encoding":{"x":{"field":"xl","type":"quantitative","scale":{"domain":[0.5,2.52],"range":[437,560],"nice":false,"zero":false},"axis":null},"x2":{"field":"xr"},"y":{"field":"med","type":"quantitative","scale":{"domain":[0,1500],"range":[288,108],"nice":false,"zero":false},"axis":null}}},
{"data":{"name":"B"},"transform":[{"calculate":"(datum.grp=='<10'?1:2)-0.155","as":"cl"},{"calculate":"(datum.grp=='<10'?1:2)+0.155","as":"cr"}],
 "mark":{"type":"rule","color":"black","strokeWidth":1.2},
 "encoding":{"x":{"field":"cl","type":"quantitative","scale":{"domain":[0.5,2.52],"range":[437,560],"nice":false,"zero":false},"axis":null},"x2":{"field":"cr"},"y":{"field":"lo","type":"quantitative","scale":{"domain":[0,1500],"range":[288,108],"nice":false,"zero":false},"axis":null}}},
{"data":{"name":"B"},"transform":[{"calculate":"(datum.grp=='<10'?1:2)-0.155","as":"cl"},{"calculate":"(datum.grp=='<10'?1:2)+0.155","as":"cr"}],
 "mark":{"type":"rule","color":"black","strokeWidth":1.2},
 "encoding":{"x":{"field":"cl","type":"quantitative","scale":{"domain":[0.5,2.52],"range":[437,560],"nice":false,"zero":false},"axis":null},"x2":{"field":"cr"},"y":{"field":"hi","type":"quantitative","scale":{"domain":[0,1500],"range":[288,108],"nice":false,"zero":false},"axis":null}}},
{"data":{"name":"Bo"},"transform":[{"calculate":"round(datum.v/50)","as":"r"},{"window":[{"op":"row_number","as":"k"}],"groupby":["r"]},{"joinaggregate":[{"op":"count","as":"n"}],"groupby":["r"]},{"calculate":"(datum.grp=='<10'?1:2)+(datum.k-(datum.n+1)/2)*0.1","as":"xb"}],
 "mark":{"type":"point","shape":"circle","filled":true,"color":"black","size":14,"opacity":1},
 "encoding":{"x":{"field":"xb","type":"quantitative","scale":{"domain":[0.5,2.52],"range":[437,560],"nice":false,"zero":false},"axis":null},"y":{"field":"v","type":"quantitative","scale":{"domain":[0,1500],"range":[288,108],"nice":false,"zero":false},"axis":null}}},
{"data":{"name":"Bs"},"transform":[{"filter":"datum.k=='br'"}],"mark":{"type":"rule","color":"#999","strokeWidth":1.3},
 "encoding":{"x":{"field":"x","type":"quantitative","scale":{"domain":[0.5,2.52],"range":[437,560],"nice":false,"zero":false},"axis":null},"x2":{"field":"x2"},"y":{"field":"y","type":"quantitative","scale":{"domain":[0,1500],"range":[288,108],"nice":false,"zero":false},"axis":null},"y2":{"field":"y2"}}},
{"data":{"name":"Bs"},"transform":[{"filter":"datum.k=='ln'"}],"mark":{"type":"rule","color":"black","strokeWidth":1.2},
 "encoding":{"x":{"field":"x","type":"quantitative","scale":{"domain":[0.5,2.52],"range":[437,560],"nice":false,"zero":false},"axis":null},"x2":{"field":"x2"},"y":{"field":"y","type":"quantitative","scale":{"domain":[0,1500],"range":[288,108],"nice":false,"zero":false},"axis":null},"y2":{"field":"y2"}}},
{"data":{"name":"Bt"},"transform":[{"filter":"datum.k=='p'"}],"mark":{"type":"text","fontSize":11.5,"color":"black"},
 "encoding":{"x":{"field":"x","type":"quantitative","scale":{"domain":[0.5,2.52],"range":[437,560],"nice":false,"zero":false},"axis":null},"y":{"field":"y","type":"quantitative","scale":{"domain":[0,1500],"range":[288,108],"nice":false,"zero":false},"axis":null},"text":{"field":"t","type":"nominal"}}},
{"data":{"name":"Bt"},"transform":[{"filter":"datum.k=='s'"}],"mark":{"type":"text","fontSize":9,"color":"black"},
 "encoding":{"x":{"field":"x","type":"quantitative","scale":{"domain":[0.5,2.52],"range":[437,560],"nice":false,"zero":false},"axis":null},"y":{"field":"y","type":"quantitative","scale":{"domain":[0,1500],"range":[288,108],"nice":false,"zero":false},"axis":null},"text":{"field":"t","type":"nominal"}}},
{"data":{"name":"Bt"},"transform":[{"filter":"datum.k=='h'"}],"mark":{"type":"text","fontSize":12.5,"color":"black"},
 "encoding":{"x":{"field":"x","type":"quantitative","scale":{"domain":[0.5,2.52],"range":[437,560],"nice":false,"zero":false},"axis":null},"y":{"field":"y","type":"quantitative","scale":{"domain":[0,1500],"range":[288,108],"nice":false,"zero":false},"axis":null},"text":{"field":"t","type":"nominal"}}},
{"data":{"name":"Bt"},"transform":[{"filter":"datum.k=='lab'"}],"mark":{"type":"text","fontSize":12,"color":"black"},
 "encoding":{"x":{"field":"x","type":"quantitative","scale":{"domain":[0.5,2.52],"range":[437,560],"nice":false,"zero":false},"axis":null},"y":{"field":"y","type":"quantitative","scale":{"domain":[0,1500],"range":[288,108],"nice":false,"zero":false},"axis":null},"text":{"field":"t","type":"nominal"}}},

{"data":{"name":"C"},"transform":[{"filter":"datum.g=='a'"},{"window":[{"op":"row_number","as":"k"}],"groupby":["v"]},{"joinaggregate":[{"op":"count","as":"n"}],"groupby":["v"]},{"calculate":"1+(datum.k-(datum.n+1)/2)*0.064","as":"xp"}],
 "mark":{"type":"point","shape":"circle","filled":false,"color":"#888","strokeWidth":0.8,"size":16,"opacity":1},
 "encoding":{
  "x":{"field":"xp","type":"quantitative","scale":{"domain":[0.5,2.56],"range":[138,245],"nice":false,"zero":false},
       "axis":{"orient":"bottom","offset":-21,"values":[1,2],"labelExpr":"datum.value==1?'a':'b'","labelFontSize":15,"tickSize":3,"labelPadding":2,"title":null}},
  "y":{"field":"v","type":"quantitative","scale":{"domain":[0,10],"range":[655,450],"nice":false,"zero":false},
       "axis":{"orient":"left","offset":-138,"values":[0,2,4,6,8,10],"format":"d","labelFontSize":12,"tickSize":3,"labelPadding":2,"title":"Plasma HCV viral load  (log₁₀IU/mL)","titleFontSize":13,"titleAngle":-90,"titleX":-30,"titleY":548,"titleAlign":"center","titleBaseline":"middle"}}}},
{"data":{"name":"C"},"transform":[{"filter":"datum.g=='b'"},{"window":[{"op":"row_number","as":"k"}],"groupby":["v"]},{"joinaggregate":[{"op":"count","as":"n"}],"groupby":["v"]},{"calculate":"2+(datum.k-(datum.n+1)/2)*0.064","as":"xp"}],
 "mark":{"type":"point","shape":"circle","filled":true,"color":"black","size":11,"opacity":1},
 "encoding":{"x":{"field":"xp","type":"quantitative","scale":{"domain":[0.5,2.56],"range":[138,245],"nice":false,"zero":false},"axis":null},"y":{"field":"v","type":"quantitative","scale":{"domain":[0,10],"range":[655,450],"nice":false,"zero":false},"axis":null}}},
{"data":{"name":"Cm"},"transform":[{"calculate":"(datum.g=='a'?1:2)-0.385","as":"x1"},{"calculate":"(datum.g=='a'?1:2)+0.385","as":"x2"}],
 "mark":{"type":"rule","color":"#222","strokeWidth":1.5},
 "encoding":{"x":{"field":"x1","type":"quantitative","scale":{"domain":[0.5,2.56],"range":[138,245],"nice":false,"zero":false},"axis":null},"x2":{"field":"x2"},"y":{"field":"m","type":"quantitative","scale":{"domain":[0,10],"range":[655,450],"nice":false,"zero":false},"axis":null}}},
{"data":{"name":"Cs"},"mark":{"type":"rule","color":"#999","strokeWidth":1.3},
 "encoding":{"x":{"field":"x","type":"quantitative","scale":{"domain":[0.5,2.56],"range":[138,245],"nice":false,"zero":false},"axis":null},"x2":{"field":"x2"},"y":{"field":"y","type":"quantitative","scale":{"domain":[0,10],"range":[655,450],"nice":false,"zero":false},"axis":null},"y2":{"field":"y2"}}},
{"data":{"name":"Ct"},"transform":[{"filter":"datum.k=='p'"}],"mark":{"type":"text","fontSize":13,"color":"black"},
 "encoding":{"x":{"field":"x","type":"quantitative","scale":{"domain":[0.5,2.56],"range":[138,245],"nice":false,"zero":false},"axis":null},"y":{"field":"y","type":"quantitative","scale":{"domain":[0,10],"range":[655,450],"nice":false,"zero":false},"axis":null},"text":{"field":"t","type":"nominal"}}},
{"data":{"name":"Ct"},"transform":[{"filter":"datum.k=='lab'"}],"mark":{"type":"text","fontSize":11,"color":"black"},
 "encoding":{"x":{"field":"x","type":"quantitative","scale":{"domain":[0.5,2.56],"range":[138,245],"nice":false,"zero":false},"axis":null},"y":{"field":"y","type":"quantitative","scale":{"domain":[0,10],"range":[655,450],"nice":false,"zero":false},"axis":null},"text":{"field":"t","type":"nominal"}}},

{"data":{"name":"D"},"transform":[{"filter":"datum.g=='a'"},{"window":[{"op":"row_number","as":"k"}],"groupby":["v"]},{"joinaggregate":[{"op":"count","as":"n"}],"groupby":["v"]},{"calculate":"1+(datum.k-(datum.n+1)/2)*0.072","as":"xp"}],
 "mark":{"type":"point","shape":"circle","filled":false,"color":"#888","strokeWidth":0.8,"size":18,"opacity":1},
 "encoding":{
  "x":{"field":"xp","type":"quantitative","scale":{"domain":[0.4,2.6],"range":[377,509],"nice":false,"zero":false},
       "axis":{"orient":"bottom","offset":-21,"values":[1,2],"labelExpr":"datum.value==1?'a':'b'","labelFontSize":15,"tickSize":3,"labelPadding":2,"title":null,"domainColor":"#888","tickColor":"#888"}},
  "y":{"field":"v","type":"quantitative","scale":{"domain":[0,6],"range":[655,470],"nice":false,"zero":false},
       "axis":{"orient":"left","offset":-377,"values":[0,1,2,3,4,5,6],"format":"d","labelFontSize":13,"tickSize":2,"labelPadding":2,"domainColor":"#888","tickColor":"#888","title":"Plasma HCV core Ag (log₁₀fmol/L)","titleFontSize":13,"titleAngle":-90,"titleX":-27,"titleY":557,"titleAlign":"center","titleBaseline":"middle"}}}},
{"data":{"name":"D"},"transform":[{"filter":"datum.g=='b'"},{"window":[{"op":"row_number","as":"k"}],"groupby":["v"]},{"joinaggregate":[{"op":"count","as":"n"}],"groupby":["v"]},{"calculate":"2+(datum.k-(datum.n+1)/2)*0.057","as":"xp"}],
 "mark":{"type":"point","shape":"circle","filled":true,"color":"black","size":14,"opacity":1},
 "encoding":{"x":{"field":"xp","type":"quantitative","scale":{"domain":[0.4,2.6],"range":[377,509],"nice":false,"zero":false},"axis":null},"y":{"field":"v","type":"quantitative","scale":{"domain":[0,6],"range":[655,470],"nice":false,"zero":false},"axis":null}}},
{"data":{"name":"Dm"},"transform":[{"calculate":"(datum.g=='a'?1:2)-0.39","as":"x1"},{"calculate":"(datum.g=='a'?1:2)+0.39","as":"x2"}],
 "mark":{"type":"rule","color":"#555","strokeWidth":1.5},
 "encoding":{"x":{"field":"x1","type":"quantitative","scale":{"domain":[0.4,2.6],"range":[377,509],"nice":false,"zero":false},"axis":null},"x2":{"field":"x2"},"y":{"field":"m","type":"quantitative","scale":{"domain":[0,6],"range":[655,470],"nice":false,"zero":false},"axis":null}}},
{"data":{"name":"Ds"},"mark":{"type":"rule","color":"#999","strokeWidth":1.3},
 "encoding":{"x":{"field":"x","type":"quantitative","scale":{"domain":[0.4,2.6],"range":[377,509],"nice":false,"zero":false},"axis":null},"x2":{"field":"x2"},"y":{"field":"y","type":"quantitative","scale":{"domain":[0,6],"range":[655,470],"nice":false,"zero":false},"axis":null},"y2":{"field":"y2"}}},
{"data":{"name":"Dt"},"transform":[{"filter":"datum.k=='p'"}],"mark":{"type":"text","fontSize":11.5,"color":"black"},
 "encoding":{"x":{"field":"x","type":"quantitative","scale":{"domain":[0.4,2.6],"range":[377,509],"nice":false,"zero":false},"axis":null},"y":{"field":"y","type":"quantitative","scale":{"domain":[0,6],"range":[655,470],"nice":false,"zero":false},"axis":null},"text":{"field":"t","type":"nominal"}}},
{"data":{"name":"Dt"},"transform":[{"filter":"datum.k=='lab'"}],"mark":{"type":"text","fontSize":10,"color":"black"},
 "encoding":{"x":{"field":"x","type":"quantitative","scale":{"domain":[0.4,2.6],"range":[377,509],"nice":false,"zero":false},"axis":null},"y":{"field":"y","type":"quantitative","scale":{"domain":[0,6],"range":[655,470],"nice":false,"zero":false},"axis":null},"text":{"field":"t","type":"nominal"}}}
],
"resolve":{"scale":{"x":"independent","y":"independent"},"axis":{"x":"independent","y":"independent"}}
}
